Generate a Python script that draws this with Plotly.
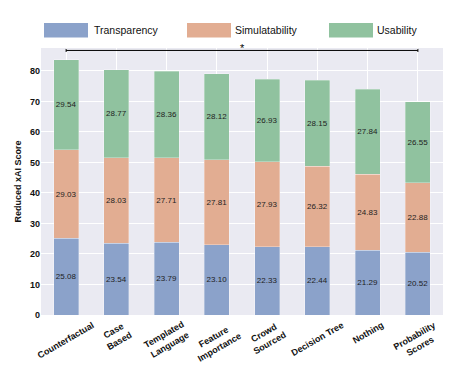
import plotly.graph_objects as go

categories = ["Counterfactual", "Case Based", "Templated Language", "Feature Importance",
              "Crowd Sourced", "Decision Tree", "Nothing", "Probability Scores"]
tick_labels = ["Counterfactual", "Case<br>Based", "Templated<br>Language", "Feature<br>Importance",
               "Crowd<br>Sourced", "Decision Tree", "Nothing", "Probability<br>Scores"]
transparency = [25.08, 23.54, 23.79, 23.10, 22.33, 22.44, 21.29, 20.52]
simulatability = [29.03, 28.03, 27.71, 27.81, 27.93, 26.32, 24.83, 22.88]
usability = [29.54, 28.77, 28.36, 28.12, 26.93, 28.15, 27.84, 26.55]
series_names = ["Transparency", "Simulatability", "Usability"]
colors = ["#8BA2CA", "#E2AD92", "#90C29F"]
bracket_y = 86.7

FONT = "Liberation Sans, Arial, Helvetica, sans-serif"
OFF = 8  # page body margin
WIN_W, WIN_H = 458, 375
W, H = WIN_W - OFF, WIN_H - OFF
# plot area in window pixels: x 41..443, y 48..315
PL, PR, PT, PB = 41, 443, 48, 315
ML, MR, MT, MB = PL - OFF, W - (PR - OFF), PT - OFF, H - (PB - OFF)
PW, PH = PR - PL, PB - PT

def px_x(x):
    return (x - PL) / PW

def px_y(y):
    return (PB - y) / PH

fig = go.Figure()
for name, vals, col in zip(series_names, [transparency, simulatability, usability], colors):
    fig.add_trace(go.Bar(
        x=categories, y=vals, name=name, width=0.5,
        marker=dict(color=col, line=dict(color="rgba(255,255,255,0.5)", width=0.6)),
        texttemplate="%{y:.2f}", textposition="inside", insidetextanchor="middle",
        textangle=0, constraintext="none",
        textfont=dict(family=FONT, size=8, color="#1e1e1e"),
        showlegend=False, hoverinfo="skip",
    ))

shapes = []
annotations = []
# significance bracket
shapes.append(dict(type="line", xref="x", yref="y", x0=categories[0], x1=categories[-1],
                   y0=bracket_y, y1=bracket_y, line=dict(color="black", width=1)))
for c in (categories[0], categories[-1]):
    shapes.append(dict(type="line", xref="x", yref="y", x0=c, x1=c,
                       y0=bracket_y - 0.5, y1=bracket_y + 0.5, line=dict(color="black", width=1)))
annotations.append(dict(x=3.5, y=bracket_y, xref="x", yref="y", text="*", showarrow=False,
                        yanchor="bottom", yshift=-6, font=dict(family=FONT, size=11, color="black")))

# legend (custom, large patches)
leg = [(44, 88, 92), (187, 231, 233), (329, 373, 375)]
for (x0, x1, tx), name, col in zip(leg, series_names, colors):
    shapes.append(dict(type="rect", xref="paper", yref="paper",
                       x0=px_x(x0), x1=px_x(x1), y0=px_y(37.5), y1=px_y(23),
                       fillcolor=col, line=dict(width=0)))
    annotations.append(dict(x=px_x(tx), y=px_y(30.5), xref="paper", yref="paper", text=name,
                            showarrow=False, xanchor="left", yanchor="middle",
                            font=dict(family=FONT, size=10.5, color="#111")))

# rotated, centred category labels
for c, lab in zip(categories, tick_labels):
    annotations.append(dict(x=c, y=0, xref="x", yref="paper", text=lab, showarrow=False,
                            textangle=-30, xanchor="center", yanchor="top", yshift=-2,
                            align="center",
                            font=dict(family=FONT, size=9, color="#111", weight="bold")))

fig.update_layout(
    barmode="stack", width=W, height=H,
    margin=dict(l=ML, r=MR, t=MT, b=MB, autoexpand=False),
    paper_bgcolor="white", plot_bgcolor="#EAEAF2",
    font=dict(family=FONT, color="#111"),
    shapes=shapes, annotations=annotations,
    xaxis=dict(range=[-0.5, 7.5], showticklabels=False, showgrid=True, gridcolor="white",
               gridwidth=1, zeroline=False, ticks=""),
    yaxis=dict(range=[0, 87.5], dtick=10, showgrid=True, gridcolor="white", gridwidth=1,
               zeroline=False, ticks="", automargin=False,
               tickfont=dict(family=FONT, size=9, color="#111", weight="bold"),
               title=dict(text="Reduced xAI Score", standoff=6,
                          font=dict(family=FONT, size=9, color="#111", weight="bold"))),
)
fig.write_html("out.html")
